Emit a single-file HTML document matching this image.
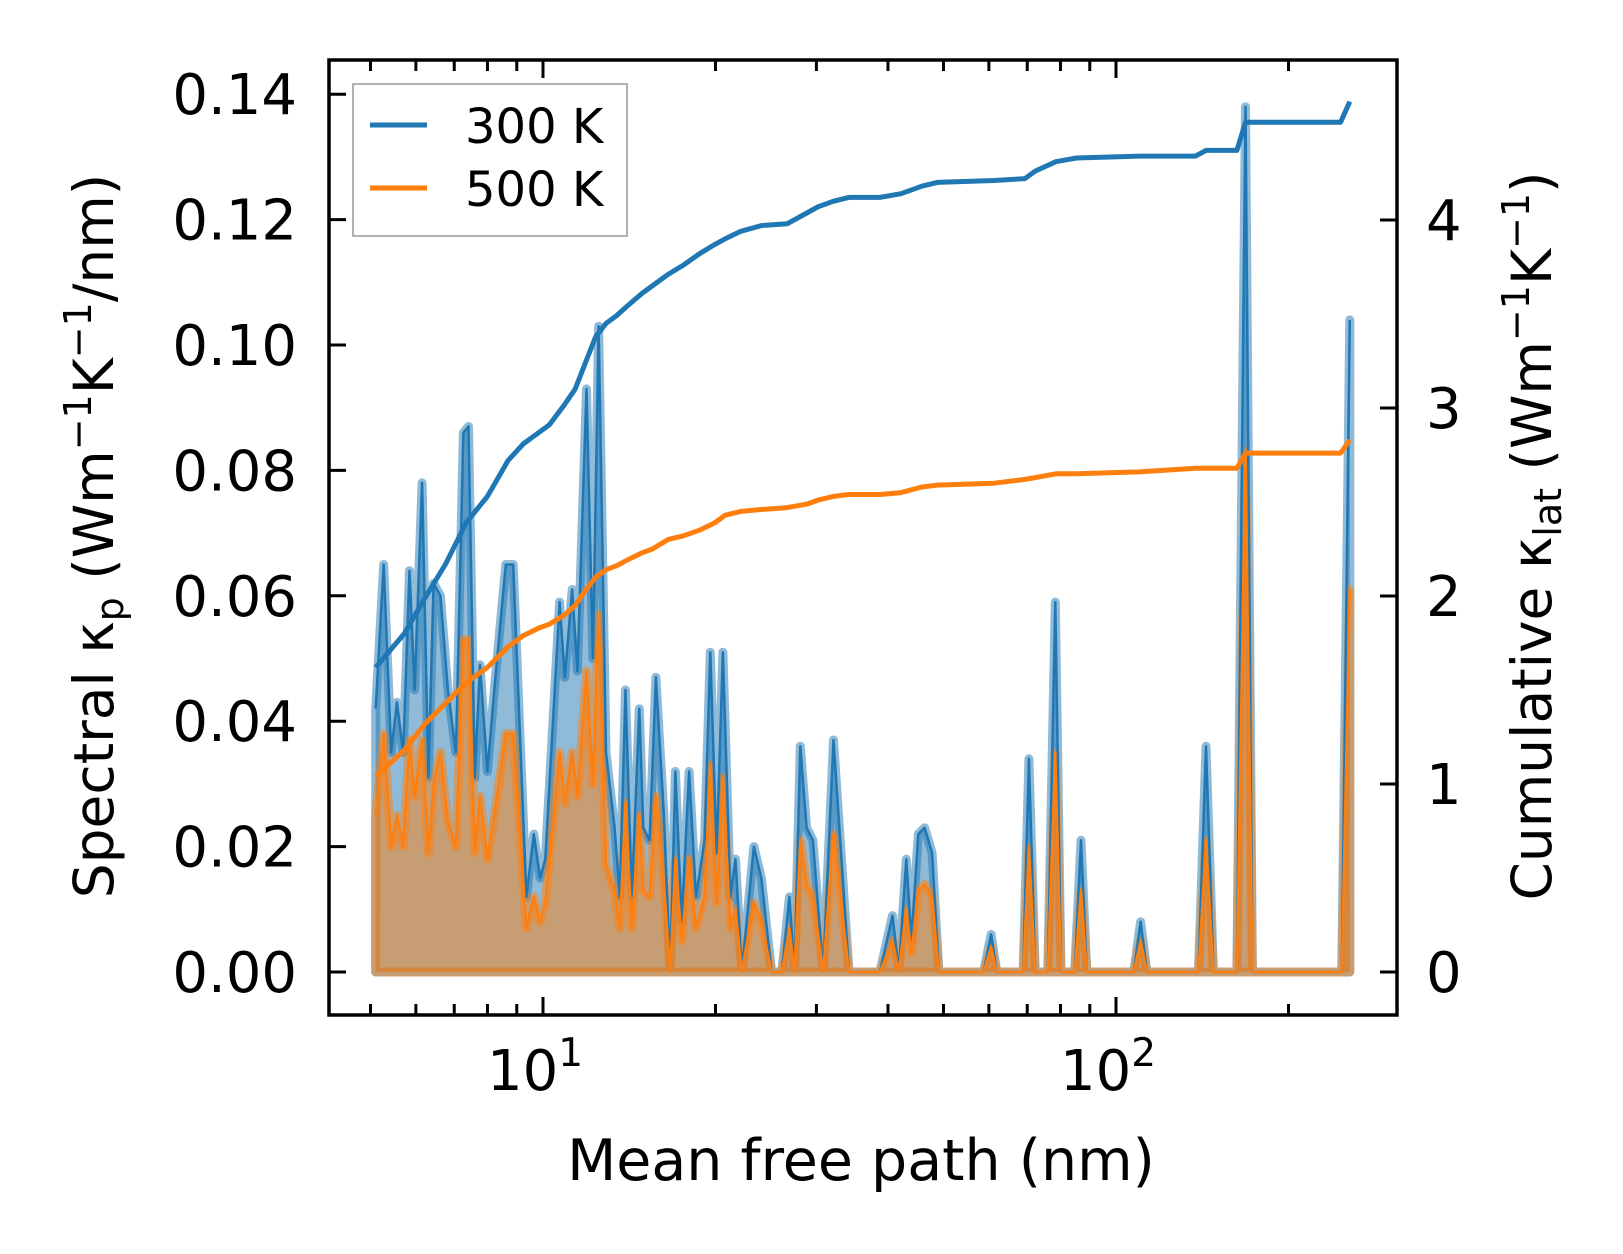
<!DOCTYPE html>
<html><head><meta charset="utf-8"><style>
html,body{margin:0;padding:0;background:#fff;}
svg{display:block;font-family:"DejaVu Sans","Liberation Sans",sans-serif;}
</style></head><body>
<svg id="chart" width="1623" height="1254" viewBox="0 0 1623 1254" xmlns="http://www.w3.org/2000/svg">
<rect width="1623" height="1254" fill="#fff"/>
<g id="plot"></g>
<g id="axes"></g>
</svg>
<script>
// spectral data (log10 of mean free path in nm)
const specLogMfp = [0.708,0.722,0.735,0.745,0.756,0.767,0.776,0.789,0.800,0.809,0.821,0.834,0.848,0.861,0.870,0.881,0.890,0.903,0.915,0.935,0.948,0.971,0.984,0.995,1.004,1.029,1.038,1.051,1.060,1.076,1.087,1.097,1.110,1.125,1.134,1.144,1.155,1.168,1.175,1.186,1.197,1.211,1.222,1.231,1.242,1.255,1.267,1.282,1.292,1.303,1.314,1.327,1.336,1.347,1.368,1.381,1.399,1.417,1.430,1.439,1.449,1.460,1.471,1.489,1.507,1.534,1.588,1.610,1.621,1.634,1.643,1.655,1.666,1.679,1.691,1.769,1.782,1.792,1.838,1.848,1.859,1.881,1.894,1.904,1.928,1.939,1.949,2.031,2.043,2.054,2.144,2.157,2.170,2.211,2.226,2.238,2.394,2.408];
const spec300 = [0.042,0.065,0.035,0.043,0.035,0.064,0.045,0.078,0.031,0.062,0.060,0.045,0.035,0.086,0.087,0.031,0.049,0.032,0.045,0.065,0.065,0.012,0.022,0.015,0.018,0.059,0.047,0.061,0.048,0.093,0.050,0.103,0.035,0.023,0.012,0.045,0.012,0.042,0.023,0.021,0.047,0.025,0,0.032,0.008,0.032,0.012,0.021,0.051,0.019,0.051,0.012,0.018,0,0.020,0.015,0,0,0.012,0,0.036,0.023,0.021,0,0.037,0,0,0.009,0,0.018,0.005,0.022,0.023,0.019,0,0,0.006,0,0,0.034,0,0,0.059,0,0,0.021,0,0,0.008,0,0,0.036,0,0,0.138,0,0,0.104];
const spec500 = [0.025,0.038,0.020,0.025,0.020,0.037,0.028,0.037,0.019,0.030,0.035,0.024,0.020,0.053,0.053,0.019,0.028,0.018,0.025,0.038,0.038,0.007,0.012,0.008,0.011,0.035,0.027,0.035,0.028,0.048,0.030,0.057,0.017,0.013,0.007,0.027,0.007,0.025,0.013,0.012,0.028,0.014,0,0.018,0.005,0.018,0.007,0.012,0.033,0.011,0.031,0.007,0.010,0,0.011,0.008,0,0,0.007,0,0.021,0.014,0.012,0,0.022,0,0,0.005,0,0.010,0.003,0.013,0.014,0.012,0,0,0.004,0,0,0.020,0,0,0.035,0,0,0.013,0,0,0.005,0,0,0.021,0,0,0.083,0,0,0.061];
// cumulative data
const cumLogMfp = [0.708,0.758,0.794,0.830,0.866,0.903,0.939,0.966,0.993,1.011,1.038,1.056,1.074,1.092,1.110,1.128,1.146,1.173,1.191,1.218,1.245,1.273,1.300,1.318,1.345,1.381,1.426,1.462,1.480,1.507,1.534,1.588,1.625,1.661,1.688,1.787,1.841,1.859,1.895,1.931,2.040,2.139,2.157,2.211,2.226,2.392,2.408];
const cum300 = [1.62,1.80,1.99,2.17,2.39,2.53,2.72,2.81,2.87,2.91,3.02,3.10,3.24,3.38,3.45,3.49,3.54,3.61,3.65,3.71,3.76,3.82,3.87,3.90,3.94,3.97,3.98,4.04,4.07,4.10,4.12,4.12,4.14,4.18,4.20,4.21,4.22,4.26,4.31,4.33,4.34,4.34,4.37,4.37,4.52,4.52,4.63];
const cum500 = [1.04,1.18,1.32,1.43,1.54,1.62,1.73,1.79,1.83,1.85,1.90,1.95,2.03,2.10,2.14,2.16,2.19,2.23,2.25,2.30,2.32,2.35,2.39,2.43,2.45,2.46,2.47,2.49,2.51,2.53,2.54,2.54,2.55,2.58,2.59,2.60,2.62,2.63,2.65,2.65,2.66,2.68,2.68,2.68,2.76,2.76,2.83];
const leftTicks = [0,0.02,0.04,0.06,0.08,0.10,0.12,0.14];
const leftTickLabels = ["0.00","0.02","0.04","0.06","0.08","0.10","0.12","0.14"];
const rightTicks = [0,1,2,3,4];
const xMajorExp = [1,2];
const xMinor = [5,6,7,8,9,20,30,40,50,60,70,80,90,200];

const NS="http://www.w3.org/2000/svg";
const L=329,R=1397,T=60,B=1015;
const xs=lg=>543+(lg-1)*573;
const xv=v=>xs(Math.log10(v));
const yl=v=>972-v*6270;
const yr=v=>972-v*188;
function mk(tag,attrs,parent){const e=document.createElementNS(NS,tag);for(const k in attrs)e.setAttribute(k,attrs[k]);parent.appendChild(e);return e;}
const plot=document.getElementById('plot'), axes=document.getElementById('axes');

function area(vals,color,name){
  let d='M'+xs(specLogMfp[0])+','+yl(0);
  specLogMfp.forEach((lg,i)=>{d+=' L'+xs(lg).toFixed(1)+','+yl(vals[i]).toFixed(1);});
  d+=' L'+xs(specLogMfp[specLogMfp.length-1])+','+yl(0)+' Z';
  const p=mk('path',{d:d,fill:color,'fill-opacity':0.5,stroke:color,'stroke-opacity':0.5,'stroke-width':9,'stroke-linejoin':'round'},plot);
  
  
}
function line(lgs,vals,yf,color,w,name){
  const d=lgs.map((lg,i)=>(i?'L':'M')+xs(lg).toFixed(1)+','+yf(vals[i]).toFixed(1)).join(' ');
  const p=mk('path',{d:d,fill:'none',stroke:color,'stroke-width':w,'stroke-linejoin':'round'},plot);
  
  
}
area(spec300,'#1f77b4','spectral-300k-area');
area(spec500,'#ff7f0e','spectral-500k-area');
line(specLogMfp,spec300,yl,'#1f77b4',2.5,'spectral-300k-line');
line(specLogMfp,spec500,yl,'#ff7f0e',2.5,'spectral-500k-line');
line(cumLogMfp,cum300,yr,'#1f77b4',5,'cumulative-300k-line');
line(cumLogMfp,cum500,yr,'#ff7f0e',5,'cumulative-500k-line');

// frame
const fr=mk('rect',{x:L,y:T,width:R-L,height:B-T,fill:'none',stroke:'#000','stroke-width':3.5},axes);


function tick(x1,y1,x2,y2,name){const t=mk('line',{x1:x1,y1:y1,x2:x2,y2:y2,stroke:'#000','stroke-width':3},axes);}
function text(x,y,s,size,anchor,name){const t=mk('text',{x:x,y:y,'font-size':size,'text-anchor':anchor,fill:'#000'},axes);t.textContent=s;return t;}
leftTicks.forEach((v,i)=>{
  tick(L,yl(v),L+17,yl(v),'left-tick');
  text(297,yl(v)+20,leftTickLabels[i],56,'end','left-tick-label');
});
rightTicks.forEach(v=>{
  tick(R,yr(v),R-17,yr(v),'right-tick');
  text(1426,yr(v)+20,String(v),56,'start','right-tick-label');
});
xMajorExp.forEach(e=>{
  const x=xs(e);
  tick(x,B,x,B-18,'x-major-tick');tick(x,T,x,T+18,'x-major-tick-top');
  const t=text(x-8,1090,'10',56,'middle','x-tick-label');
  const s=document.createElementNS(NS,'tspan');s.setAttribute('dy','-24');s.setAttribute('font-size','39');s.textContent=String(e);t.appendChild(s);
});
xMinor.forEach(v=>{const x=xv(v);tick(x,B,x,B-11,'x-minor-tick');tick(x,T,x,T+11,'x-minor-tick-top');});

text(861,1180,'Mean free path (nm)',57,'middle','x-axis-title');
// left y title
const lt=mk('text',{x:0,y:0,'font-size':55,'text-anchor':'middle',transform:'translate(113,536) rotate(-90)'},axes);


lt.innerHTML='Spectral κ<tspan font-size="38" dy="10">p</tspan><tspan dy="-10"> (Wm</tspan><tspan font-size="38" dy="-22">−1</tspan><tspan dy="22">K</tspan><tspan font-size="38" dy="-22">−1</tspan><tspan dy="22">/nm)</tspan>';
const rt=mk('text',{x:0,y:0,'font-size':55,'text-anchor':'middle',transform:'translate(1551,536) rotate(-90)'},axes);


rt.innerHTML='Cumulative κ<tspan font-size="38" dy="10">lat</tspan><tspan dy="-10"> (Wm</tspan><tspan font-size="38" dy="-22">−1</tspan><tspan dy="22">K</tspan><tspan font-size="38" dy="-22">−1</tspan><tspan dy="22">)</tspan>';

// legend
const lg=mk('g',{},axes);


const lb=mk('rect',{x:353,y:84,width:274,height:152,fill:'#fff','fill-opacity':0.8,stroke:'#999','stroke-width':1.5},lg);


[['300 K','#1f77b4',125],['500 K','#ff7f0e',188]].forEach(([lab,c,y])=>{
  const l=mk('line',{x1:370,y1:y,x2:427,y2:y,stroke:c,'stroke-width':5},lg);
  
  
  const t=mk('text',{x:465,y:y+18,'font-size':48},lg);t.textContent=lab;
  
  
});
</script>
</body></html>
